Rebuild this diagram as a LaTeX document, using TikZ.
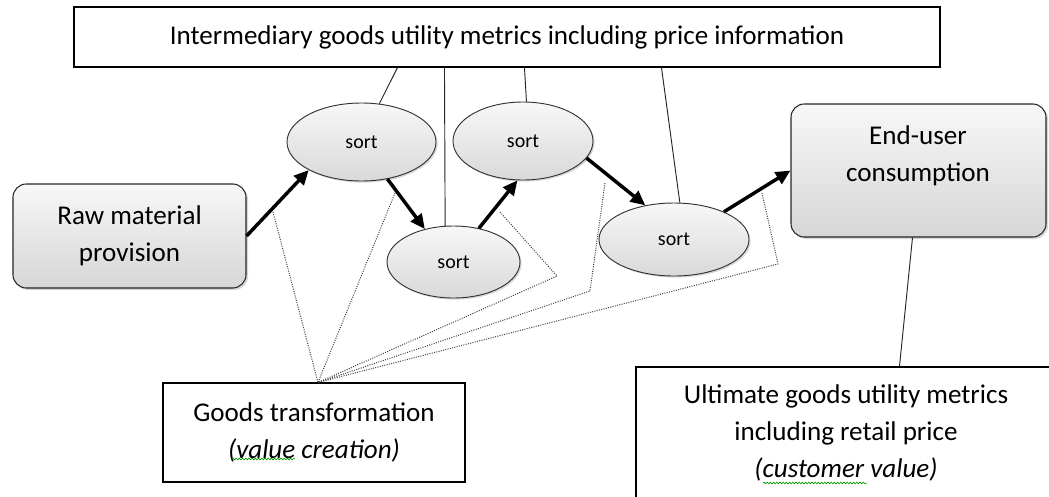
\documentclass[tikz,border=0pt]{standalone}
\usepackage{fontspec}
\setmainfont{Carlito}
\usetikzlibrary{shapes.geometric,shadows,arrows.meta,calc,decorations.pathmorphing}
\tikzset{
  txt/.style={font=\fontsize{20.3}{28}\selectfont, align=center, text=black},
  plainbox/.style={draw=black, line width=0.8pt, fill=white, rectangle, inner sep=0pt},
  gradbox/.style={draw=black!85, line width=0.8pt, rectangle, rounded corners=10pt, inner sep=0pt,
    top color=gray!6, bottom color=gray!32,
    drop shadow={shadow xshift=1.5pt, shadow yshift=-1.5pt, opacity=0.3}},
  sortnode/.style={draw=black!80, line width=0.7pt, ellipse, inner sep=0pt,
    top color=gray!6, bottom color=gray!30,
    drop shadow={shadow xshift=1.2pt, shadow yshift=-1.2pt, opacity=0.3},
    font=\fontsize{15}{17}\selectfont},
  flow/.style={line width=2.6pt, -{Triangle[length=11pt,width=10pt]}, black},
  link/.style={line width=0.7pt, black!85},
  dots/.style={densely dotted, line width=0.75pt, black!75},
  squiggle/.style={green!60!black, line width=0.5pt, decorate,
    decoration={snake, amplitude=0.6pt, segment length=2.4pt}},
}
\begin{document}
\begin{tikzpicture}[x=0.75pt,y=-0.75pt]
\useasboundingbox (0,0) rectangle (1049,496);
\fill[white] (0,0) rectangle (1049,496);
\clip (0,0) rectangle (1049,496);

% boxes
\node[plainbox, minimum width=649.5pt, minimum height=45pt, txt] (Top) at (507,37)
  {Intermediary goods utility metrics including price information};
\node[gradbox, minimum width=174.75pt, minimum height=78pt, txt] (Raw) at (129.5,236)
  {Raw material\\provision};
\node[gradbox, minimum width=191.25pt, minimum height=99.75pt] (End) at (918.5,170.5) {};
\node[txt] (EndText) at (918,156) {End-user\\consumption};
\node[plainbox, minimum width=345pt, minimum height=127.5pt] (Ult) at (866,452) {};
\node[txt] (UltText) at (846,433)
  {Ultimate goods utility metrics\\including retail price\\\textit{(customer value)}};
\node[plainbox, minimum width=226.5pt, minimum height=74.25pt, txt] (Goods) at (314,432.5)
  {Goods transformation\\\textit{(value creation)}};

% spell-check squiggles
\draw[squiggle] ($(Goods.center)+(-82,26.5)$) -- ($(Goods.center)+(-19,26.5)$);
\draw[squiggle] ($(UltText.center)+(-83,50)$) -- ($(UltText.center)+(21,50)$);

% sort ellipses
\node[sortnode, minimum width=111.75pt, minimum height=58.5pt] (E1) at (361.5,142) {sort};
\node[sortnode, minimum width=99.75pt, minimum height=54pt] (E2) at (453.5,262) {sort};
\node[sortnode, minimum width=105pt, minimum height=58.5pt] (E3) at (523,141) {sort};
\node[sortnode, minimum width=112.5pt, minimum height=54.75pt] (E4) at (674,239.5) {sort};

% thin solid links
\draw[link] ($(Top.south west)+(324,0)$) -- (E1.65);
\draw[link] ($(Top.south west)+(371,0)$) -- (E2.103);
\draw[link] ($(Top.south west)+(451,0)$) -- (E3.85);
\draw[link] ($(Top.south west)+(588,0)$) -- (E4.81);
\draw[link] ($(End.south)+(-6,0)$) -- ($(Ult.north west)+(264,0)$);

% dotted links to goods transformation
\coordinate (C) at ($(Goods.north)+(4,0)$);
\coordinate (d1) at (273,212);
\coordinate (d2) at (395,193);
\coordinate (d3a) at (500,212);
\coordinate (d3b) at (557,276);
\coordinate (d4a) at (605,183);
\coordinate (d4b) at (590,291);
\coordinate (d5a) at (762,193);
\coordinate (d5b) at (778,264);
\draw[dots] (d1) -- (C);
\draw[dots] (d2) -- (C);
\draw[dots] (d3a) -- (d3b) -- (C);
\draw[dots] (d4a) -- (d4b) -- (C);
\draw[dots] (d5a) -- (d5b) -- (C);

% flow arrows
\draw[flow] (Raw.east) -- (E1.208);
\draw[flow] (E1.-55) -- (E2.131);
\draw[flow] (E2.53) -- (E3.262);
\draw[flow] (E3.-15) -- (E4.130);
\draw[flow] (E4.29) -- (End.west);
\end{tikzpicture}
\end{document}
